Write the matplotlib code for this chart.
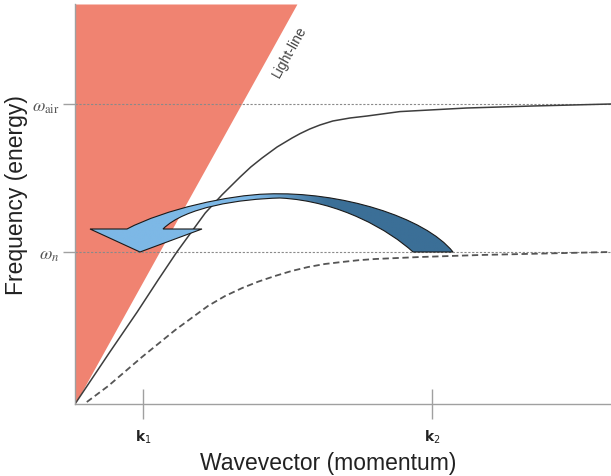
import numpy as np
import matplotlib
matplotlib.use("Agg")
import matplotlib.pyplot as plt
from matplotlib.path import Path
from matplotlib.patches import PathPatch
from matplotlib.colors import LinearSegmentedColormap

plt.rcParams['font.family'] = ['Liberation Sans', 'DejaVu Sans']

# dispersion curves (k in %, omega in %)
solid_k = [0, 6.5, 11.6, 15.5, 19.0, 24.3, 27.4, 30.8, 32.8, 34.9, 37.7,
           40.5, 42.0, 43.8, 45.7, 48.1, 51.3, 54.5, 60.6, 73.1, 85.4, 100]
solid_w = [0, 13.0, 23.0, 31.0, 38.0, 47.75, 52.25, 56.75, 59.25, 61.5, 64.25,
           66.5, 67.6, 68.75, 69.75, 70.75, 71.5, 72.0, 73.1, 74.0, 74.5, 75.0]

dashed_k = [2.2, 6.2, 12.5, 18.7, 24.8, 28.0, 31.2, 34.2, 37.3, 40.4, 43.5,
            46.6, 49.8, 52.9, 56.0, 64.4, 75.6, 86.8, 99.8]
dashed_w = [0.5, 4.5, 11.75, 18.5, 24.5, 27.0, 29.0, 30.6, 32.0, 33.25, 34.25,
            35.0, 35.5, 35.95, 36.25, 36.75, 37.25, 37.6, 38.0]

light_k = [0, 41.4]
light_w = [0, 100]

w_levels = [75.0, 38.0]
w_labels = [r'$\omega_{\rm air}$', r'$\omega_n$']
k_ticks = [12.7, 66.6]
k_labels = [r'$\mathbf{k}_1$', r'$\mathbf{k}_2$']

fig = plt.figure(figsize=(6.11, 4.77), dpi=100)
ax = fig.add_axes([75 / 611, 72 / 477, 536 / 611, 400 / 477])

# region left of the light line
ax.fill_betweenx(light_w, [0, 0], light_k, color='#F08371', lw=0, zorder=1)

for w in w_levels:
    ax.axhline(w, color='#8a8a8a', lw=0.8, ls=(0, (2, 1.5)), zorder=2)

ax.plot(solid_k, solid_w, color='#3d3d3d', lw=1.1, zorder=3,
        solid_joinstyle='round')
ax.plot(dashed_k, dashed_w, color='#555555', lw=1.3, ls=(0, (3.5, 2)), zorder=3)

ax.text(40.1, 88.25, 'Light-line', rotation=61, fontsize=10, color='#444444',
        ha='center', va='center')

# curved arrow (coupling from k2 back to k1)
def P(px, py):
    return ((px - 75) / 5.36, (405 - py) / 4)

verts = [P(453, 253), P(425, 218), P(340, 192), P(267, 195),
         P(230, 196), P(165, 210), P(127, 230),
         P(90, 230), P(140, 253), P(202, 230), P(163, 230),
         P(185, 208), P(240, 200), P(280, 199),
         P(340, 202), P(390, 232), P(413, 253),
         P(453, 253)]
codes = [Path.MOVETO, Path.CURVE4, Path.CURVE4, Path.CURVE4,
         Path.CURVE4, Path.CURVE4, Path.CURVE4,
         Path.LINETO, Path.LINETO, Path.LINETO, Path.LINETO,
         Path.CURVE4, Path.CURVE4, Path.CURVE4,
         Path.CURVE4, Path.CURVE4, Path.CURVE4,
         Path.CLOSEPOLY]
arrow = PathPatch(Path(verts, codes), facecolor='none', edgecolor='#1a1a1a',
                  lw=0.8, zorder=5)
ax.add_patch(arrow)

kk = np.linspace(0, 75, 300)
grad = np.clip((kk - 33) / 14, 0, 1)[None, :].repeat(2, axis=0)
cmap = LinearSegmentedColormap.from_list('arr', ['#7DB8E6', '#3B6F97'])
im = ax.imshow(grad, extent=[0, 75, 35, 56], origin='lower', cmap=cmap,
               aspect='auto', zorder=4, interpolation='bilinear')
im.set_clip_path(arrow)

ax.set_xlim(0, 100)
ax.set_ylim(0, 100)

for s in ['top', 'right']:
    ax.spines[s].set_visible(False)
for s in ['left', 'bottom']:
    ax.spines[s].set_color('#a0a0a0')
    ax.spines[s].set_linewidth(1.0)
    ax.spines[s].set_zorder(6)

ax.set_xticks(k_ticks)
ax.set_xticklabels(k_labels, fontsize=10, color='#222222', math_fontfamily='dejavusans')
ax.tick_params(axis='x', direction='inout', length=22, width=1, color='#a0a0a0', pad=6)
ax.set_yticks(w_levels)
ax.set_yticklabels(w_labels, fontsize=13, color='#555555', math_fontfamily='stix')
ax.tick_params(axis='y', direction='out', length=9, width=1, color='#a0a0a0', pad=2)

ax.set_xlabel('Wavevector (momentum)', fontsize=16.5, color='#222222')
ax.xaxis.set_label_coords(0.472, -0.118)
ax.set_ylabel('Frequency (energy)', fontsize=16.5, color='#222222')
ax.yaxis.set_label_coords(-0.088, 0.525)

fig.savefig('out.png', dpi=100)
